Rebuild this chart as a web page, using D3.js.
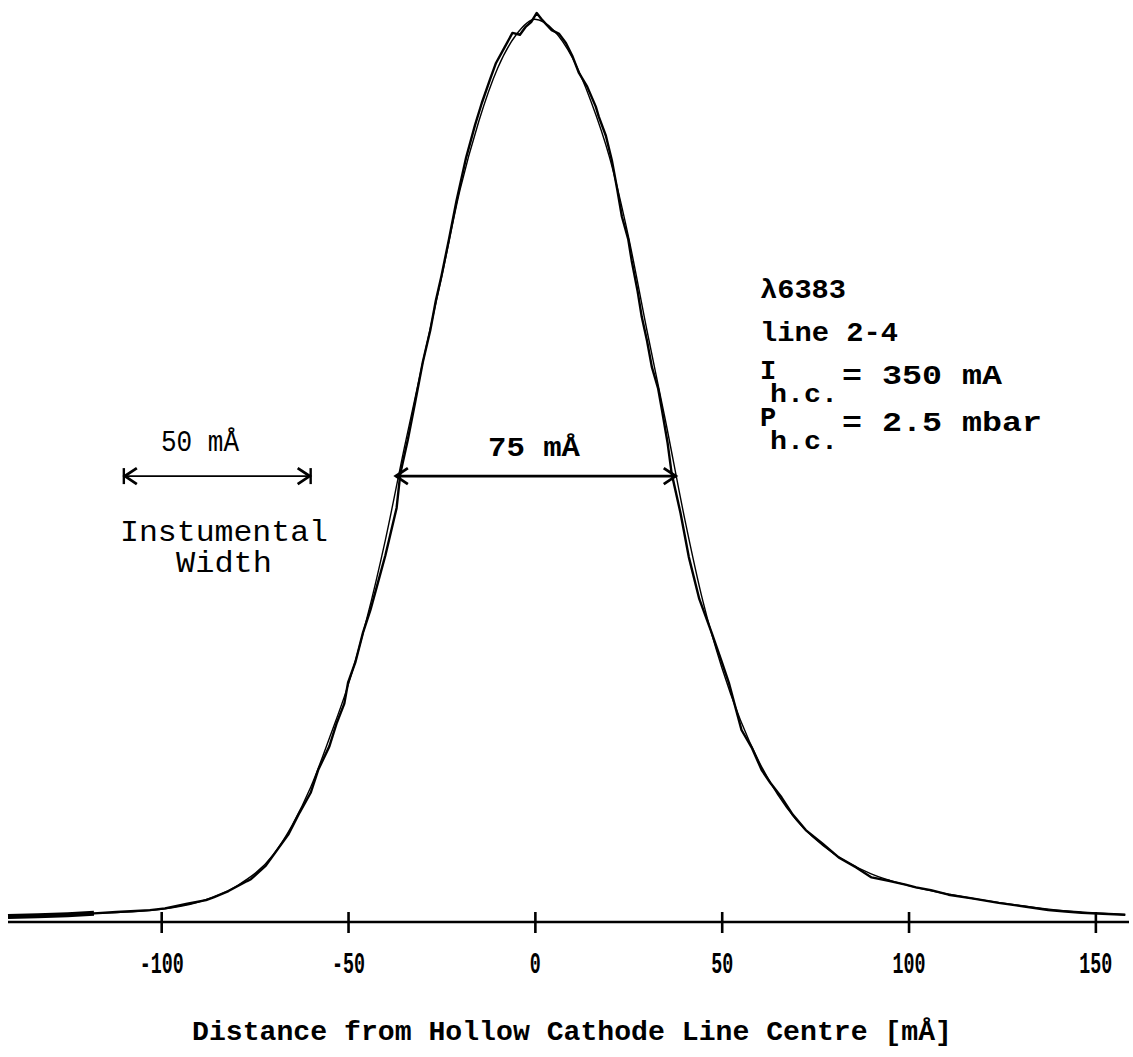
<!DOCTYPE html>
<html>
<head>
<meta charset="utf-8">
<script src="https://cdn.jsdelivr.net/npm/d3@7"></script>
<style>
  html, body { margin: 0; padding: 0; background: #fff; }
  svg { display: block; }
  .mono { font-family: "Liberation Mono", "DejaVu Sans Mono", monospace; }
</style>
</head>
<body>
<svg id="chart" width="1133" height="1057"></svg>
<script>
// ---- data ----
// measured profile: distance from line centre [mÅ] and relative intensity [%]
const measuredX = [-141, -133, -125, -118, -112, -103, -99, -93, -88, -86, -82, -77, -76, -72, -69, -66, -63, -60, -58, -55, -53, -51, -50, -48, -46, -44, -42, -40, -37, -36, -34, -32, -30, -28, -26.5, -25, -23, -21, -18.4, -16, -14.2, -12, -10.4, -8, -6, -4, -2.4, -1, 0.5, 2, 4.5, 6.5, 8.3, 10, 11.8, 14, 16.3, 17.1, 19, 20.6, 22, 23.3, 25, 25.9, 27.5, 28.6, 30, 31.3, 33, 34, 35.5, 36.6, 39, 41.2, 44, 47.3, 50, 51.9, 55.3, 58, 60.7, 63, 66, 69, 72.5, 77, 81.3, 86, 90.1, 95, 99.2, 102, 106, 110.7, 117, 124.1, 131, 137.4, 142, 146.3, 152, 158];
const measuredY = [0.6, 0.7, 0.8, 0.95, 1.1, 1.3, 1.5, 2.0, 2.4, 2.7, 3.4, 4.5, 4.7, 6.2, 7.9, 9.6, 12.0, 14.2, 16.7, 19.3, 21.9, 24.0, 26.3, 28.6, 31.8, 34.3, 37.3, 40.3, 45.5, 49.3, 53.0, 57.2, 61.5, 65.0, 68.3, 71.0, 75.0, 79.2, 84.0, 87.6, 90.0, 92.6, 94.4, 96.2, 97.7, 97.5, 98.4, 98.9, 99.9, 99.1, 98.0, 97.6, 96.6, 95.2, 93.3, 91.8, 89.6, 88.5, 86.4, 83.7, 80.6, 77.5, 75.0, 72.7, 69.3, 66.5, 63.9, 61.0, 58.6, 56.3, 52.7, 49.3, 44.9, 40.1, 35.5, 31.8, 28.6, 26.3, 21.1, 19.2, 16.7, 15.3, 13.7, 11.8, 10.1, 8.6, 7.1, 6.0, 4.9, 4.5, 4.1, 3.8, 3.5, 3.0, 2.6, 2.1, 1.7, 1.3, 1.15, 1.0, 0.9, 0.8];
// fitted profile (thin line)
const fitX = [-141, -120, -100, -90, -80, -70, -65, -60, -55, -50, -45, -40, -35, -30, -25, -20, -15, -10, -5, 0, 5, 10, 15, 20, 25, 30, 35, 40, 45, 50, 55, 60, 65, 70, 80, 90, 100, 110, 120, 130, 140, 150, 158];
const fitY = [0.5, 0.9, 1.4, 2.2, 3.9, 7.4, 10.6, 14.8, 20.2, 26.0, 33.3, 42.0, 52.0, 61.5, 70.8, 80.5, 88.0, 93.8, 97.5, 99.2, 98.0, 95.0, 90.2, 84.0, 75.4, 65.0, 55.0, 44.5, 35.2, 28.0, 22.2, 17.6, 14.0, 11.2, 7.5, 5.3, 4.0, 3.1, 2.4, 1.8, 1.3, 1.0, 0.8];

const tickValues = [-100, -50, 0, 50, 100, 150];
const xTitle = "Distance from Hollow Cathode Line Centre [mÅ]";
// annotation arrows: [from, to] in mÅ, at relative intensity level
const instrumentalSpan = [-110, -60];
const fwhmSpan = [-37.2, 37.7];
const arrowLevel = 49;
const infoLines = ["λ6383", "line 2-4"];

// ---- drawing ----
const svg = d3.select("#chart");
const x = d3.scaleLinear().domain([-141, 159]).range([8, 1129]);
const y = d3.scaleLinear().domain([0, 100]).range([922, 12]);

// axis
const axis = d3.axisBottom(x).tickValues(tickValues).tickSize(11).tickFormat(d3.format("d"));
const gAxis = svg.append("g").attr("transform", `translate(0,${y(0)})`).call(axis);
gAxis.select(".domain").attr("d", `M${x.range()[0]},0H${x.range()[1]}`)
  .attr("stroke", "#000").attr("stroke-width", 2.6);
gAxis.selectAll(".tick line").attr("y1", -10).attr("y2", 11).attr("stroke", "#000").attr("stroke-width", 2.6);
gAxis.selectAll(".tick text")
  .attr("y", 51).attr("dy", 0)
  .style("font-family", '"Liberation Mono", monospace')
  .style("font-size", "30px").style("font-weight", "bold").attr("fill", "#000")
  .text(d => d < 0 ? "-" + Math.abs(d) : String(d))
  .attr("textLength", d => String(d).length * 11)
  .attr("lengthAdjust", "spacingAndGlyphs");

// x title
svg.append("text").attr("class", "mono")
  .attr("x", 572).attr("y", 1040).attr("text-anchor", "middle")
  .attr("textLength", 760).attr("lengthAdjust", "spacingAndGlyphs")
  .style("font-size", "28px").style("font-weight", "bold")
  .text(xTitle);

// curves
const measured = measuredX.map((v, i) => [v, measuredY[i]]);
const fit = fitX.map((v, i) => [v, fitY[i]]);
const line = d3.line().x(d => x(d[0])).y(d => y(d[1]));
svg.append("path").datum(fit)
  .attr("d", line.curve(d3.curveMonotoneX))
  .attr("fill", "none").attr("stroke", "#000").attr("stroke-width", 1.4);
svg.append("path").datum(measured)
  .attr("d", d3.line().x(d => x(d[0])).y(d => y(d[1])).curve(d3.curveLinear))
  .attr("fill", "none").attr("stroke", "#000").attr("stroke-width", 2.4).attr("stroke-linejoin", "round");
// heavy ink at the far-left tail
svg.append("path").datum(measured.filter(d => d[0] <= -118))
  .attr("d", d3.line().x(d => x(d[0])).y(d => y(d[1])))
  .attr("fill", "none").attr("stroke", "#000").attr("stroke-width", 5);

// arrows
function arrowHead(g, px, py, dir) { // dir = -1 points left, +1 points right
  g.append("path")
    .attr("d", `M${px - dir * 12},${py - 8}L${px},${py}L${px - dir * 12},${py + 8}`)
    .attr("fill", "none").attr("stroke", "#000").attr("stroke-width", 2.8);
}
const ay = y(arrowLevel);
const gA = svg.append("g");
// instrumental width arrow with end bars
gA.append("line").attr("x1", x(instrumentalSpan[0])).attr("x2", x(instrumentalSpan[1]))
  .attr("y1", ay).attr("y2", ay).attr("stroke", "#000").attr("stroke-width", 1.8);
[0, 1].forEach(i => {
  const px = x(instrumentalSpan[i]);
  gA.append("line").attr("x1", px).attr("x2", px).attr("y1", ay - 8).attr("y2", ay + 8)
    .attr("stroke", "#000").attr("stroke-width", 2.4);
  arrowHead(gA, px + (i === 0 ? 1 : -1), ay, i === 0 ? -1 : 1);
});
// FWHM arrow
gA.append("line").attr("x1", x(fwhmSpan[0])).attr("x2", x(fwhmSpan[1]))
  .attr("y1", ay).attr("y2", ay).attr("stroke", "#000").attr("stroke-width", 2.6);
arrowHead(gA, x(fwhmSpan[0]), ay, -1);
arrowHead(gA, x(fwhmSpan[1]), ay, 1);

// annotation texts
const txt = (s, px, py, size, weight, len, anchor) => {
  const t = svg.append("text").attr("class", "mono").attr("x", px).attr("y", py)
    .attr("text-anchor", anchor || "start")
    .style("font-size", size + "px").style("font-weight", weight).text(s);
  if (len) t.attr("textLength", len).attr("lengthAdjust", "spacingAndGlyphs");
  return t;
};
txt("50 mÅ", 200, 451, 29, "normal", 78, "middle");
txt("Instumental", 224, 541, 29, "normal", 208, "middle");
txt("Width", 224, 572, 29, "normal", 96, "middle");
txt("75 mÅ", 534, 456, 28, "bold", 92, "middle");

txt(infoLines[0], 760, 298, 27, "bold", 86);
txt(infoLines[1], 760, 341, 27, "bold", 138);
// I h.c. = 350 mA
txt("I", 760, 379, 27, "bold");
txt("h.c.", 770, 402, 25, "bold", 68);
txt("= 350 mA", 842, 384, 27, "bold", 160);
// P h.c. = 2.5 mbar
txt("P", 760, 426, 27, "bold");
txt("h.c.", 770, 449, 25, "bold", 68);
txt("= 2.5 mbar", 842, 431, 27, "bold", 200);
</script>
</body>
</html>
